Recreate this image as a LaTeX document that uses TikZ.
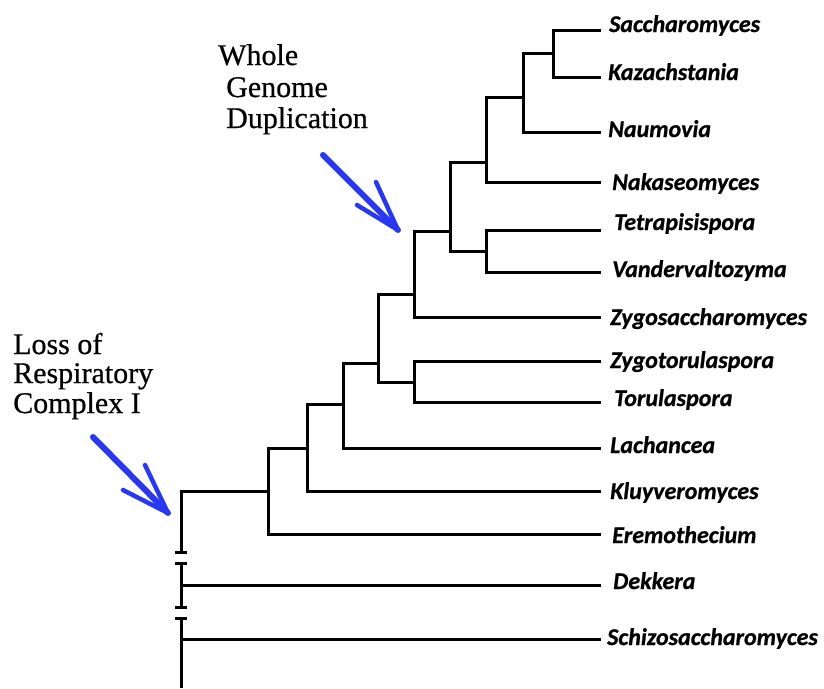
\documentclass[tikz,border=0pt]{standalone}
\usepackage{fontspec}
\setmainfont{Liberation Serif}[FakeBold=0.6]
\newfontfamily\tipfont{Carlito}[FakeBold=0.8]
\definecolor{arrowblue}{RGB}{40,55,240}
\begin{document}
\begin{tikzpicture}[x=1pt,y=-1pt,
  branch/.style={line width=3pt},
  tick/.style={line width=3pt},
  tiplabel/.style={anchor=base west, inner sep=0pt, font=\tipfont\bfseries\itshape\fontsize{24}{28}\selectfont},
  note/.style={anchor=base west, inner sep=0pt, font=\fontsize{30}{34}\selectfont},
  arrowshaft/.style={draw=arrowblue, line width=6pt, line cap=round},
  arrowhd/.style={draw=arrowblue, line width=4.5pt, line cap=round, line join=round}]
\useasboundingbox (0,0) rectangle (824,688);

% tip ends
\coordinate (tSac) at (601,30);
\coordinate (tKaz) at (601,77);
\coordinate (tNau) at (601,132);
\coordinate (tNak) at (601,182);
\coordinate (tTet) at (601,230);
\coordinate (tVan) at (601,272);
\coordinate (tZys) at (601,317);
\coordinate (tZyt) at (601,361);
\coordinate (tTor) at (601,402);
\coordinate (tLac) at (601,448);
\coordinate (tKlu) at (601,491);
\coordinate (tEre) at (601,534);
\coordinate (tDek) at (601,585);
\coordinate (tSch) at (601,639);

% internal nodes (x of vertical, y of stem)
\coordinate (nA) at (553,53);
\coordinate (nB) at (523,97);
\coordinate (nC) at (486,162);
\coordinate (nD) at (486,251);
\coordinate (nE) at (450,231);
\coordinate (nF) at (414,294);
\coordinate (nG) at (414,382);
\coordinate (nH) at (378,363);
\coordinate (nI) at (343,404);
\coordinate (nJ) at (307,448);
\coordinate (nK) at (268,491);
\coordinate (root) at (181,491);
\coordinate (rootA) at (181,552);
\coordinate (rootB) at (181,563);
\coordinate (rootC) at (181,607);
\coordinate (rootD) at (181,618);
\coordinate (rootE) at (181,688);
\coordinate (dekB) at (181,585);
\coordinate (schB) at (181,639);

% branches
\draw[branch] (nA) |- (tSac) (nA) |- (tKaz);
\draw[branch] (nB) |- (nA) (nB) |- (tNau);
\draw[branch] (nC) |- (nB) (nC) |- (tNak);
\draw[branch] (nD) |- (tTet) (nD) |- (tVan);
\draw[branch] (nE) |- (nC) (nE) |- (nD);
\draw[branch] (nF) |- (nE) (nF) |- (tZys);
\draw[branch] (nG) |- (tZyt) (nG) |- (tTor);
\draw[branch] (nH) |- (nF) (nH) |- (nG);
\draw[branch] (nI) |- (nH) (nI) |- (tLac);
\draw[branch] (nJ) |- (nI) (nJ) |- (tKlu);
\draw[branch] (nK) |- (nJ) (nK) |- (tEre);
\draw[branch] ([xshift=-1.5pt]root) -- (nK);
\draw[branch] (root) -- (rootA);
\draw[branch] (rootB) -- (rootC);
\draw[branch] (rootD) -- (rootE);
\draw[branch] (dekB) -- (tDek);
\draw[branch] (schB) -- (tSch);
\draw[tick] ([xshift=-6pt]rootA) -- ([xshift=6pt]rootA);
\draw[tick] ([xshift=-6pt]rootB) -- ([xshift=6pt]rootB);
\draw[tick] ([xshift=-6pt]rootC) -- ([xshift=6pt]rootC);
\draw[tick] ([xshift=-6pt]rootD) -- ([xshift=6pt]rootD);

% tip labels
\node[tiplabel] (lSac) at (609,32) {Saccharomyces};
\node[tiplabel] (lKaz) at (608,80) {Kazachstania};
\node[tiplabel] (lNau) at (608,137) {Naumovia};
\node[tiplabel] (lNak) at (612,190) {Nakaseomyces};
\node[tiplabel] (lTet) at (614,230) {Tetrapisispora};
\node[tiplabel] (lVan) at (612,277) {Vandervaltozyma};
\node[tiplabel] (lZys) at (610,325) {Zygosaccharomyces};
\node[tiplabel] (lZyt) at (610,368) {Zygotorulaspora};
\node[tiplabel] (lTor) at (614,406) {Torulaspora};
\node[tiplabel] (lLac) at (610,453) {Lachancea};
\node[tiplabel] (lKlu) at (610,499) {Kluyveromyces};
\node[tiplabel] (lEre) at (612,543) {Eremothecium};
\node[tiplabel] (lDek) at (613,589) {Dekkera};
\node[tiplabel] (lSch) at (607,645) {Schizosaccharomyces};

% annotations
\node[note] (w1) at (218,65) {Whole};
\node[note] (w2) at (226,97) {Genome};
\node[note] (w3) at (226,128) {Duplication};
\node[note] (r1) at (13,354) {Loss of};
\node[note] (r2) at (13,383) {Respiratory};
\node[note] (r3) at (13,413) {Complex I};

% blue arrows
\coordinate (wTail) at (323,155);
\coordinate (wTip) at (398,230);
\coordinate (wB1) at (376,182);
\coordinate (wB2) at (357,205);
\draw[arrowshaft] (wTail) -- (wTip);
\draw[arrowhd] (wB1) -- (wTip) -- (wB2);
\coordinate (lTail) at (93,437);
\coordinate (lTip) at (168,513);
\coordinate (lB1) at (145,465);
\coordinate (lB2) at (123,490);
\draw[arrowshaft] (lTail) -- (lTip);
\draw[arrowhd] (lB1) -- (lTip) -- (lB2);
\end{tikzpicture}
\end{document}
